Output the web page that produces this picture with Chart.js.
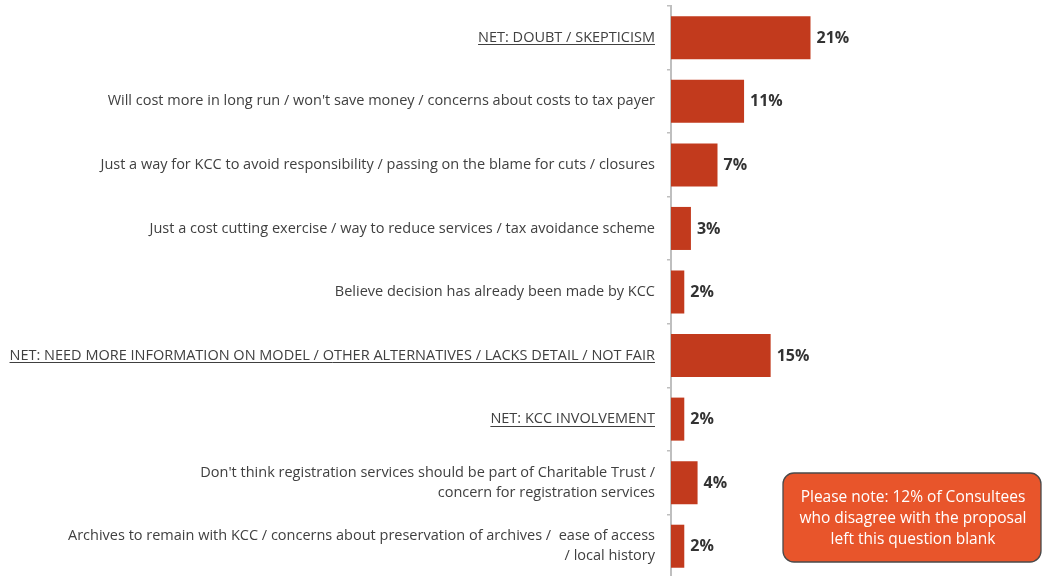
<!DOCTYPE html>
<html>
<head>
<meta charset="utf-8">
<script src="https://cdn.jsdelivr.net/npm/chart.js@4"></script>
<style>
  html, body { margin: 0; padding: 0; background: #ffffff; overflow: hidden; }
  #wrap { position: relative; width: 1043px; height: 578px; }
</style>
</head>
<body>
<div id="wrap"><canvas id="c"></canvas></div>
<script>
const categories = [
  "NET: DOUBT / SKEPTICISM",
  "Will cost more in long run / won't save money / concerns about costs to tax payer",
  "Just a way for KCC to avoid responsibility / passing on the blame for cuts / closures",
  "Just a cost cutting exercise / way to reduce services / tax avoidance scheme",
  "Believe decision has already been made by KCC",
  "NET: NEED MORE INFORMATION ON MODEL / OTHER ALTERNATIVES / LACKS DETAIL / NOT FAIR",
  "NET: KCC INVOLVEMENT",
  ["Don't think registration services should be part of Charitable Trust /", "concern for registration services"],
  ["Archives to remain with KCC / concerns about preservation of archives /  ease of access", "/ local history"]
];
const values = [21, 11, 7, 3, 2, 15, 2, 4, 2];
const valueLabels = ["21%", "11%", "7%", "3%", "2%", "15%", "2%", "4%", "2%"];
const noteLines = ["Please note: 12% of Consultees", "who disagree with the proposal", "left this question blank"];

const FONT = "'Open Sans', sans-serif";
const LABEL_SIZE = 14.5;
const TICK_LEN = 4, TICK_PAD = 12;

const extrasPlugin = {
  id: 'extras',
  afterDatasetsDraw(chart) {
    const ctx = chart.ctx;
    const meta = chart.getDatasetMeta(0);
    ctx.save();
    // value labels
    ctx.font = "bold 16px " + FONT;
    ctx.fillStyle = "#333333";
    ctx.textAlign = "left";
    ctx.textBaseline = "middle";
    meta.data.forEach((bar, i) => {
      ctx.fillText(valueLabels[i], bar.x + 6, bar.y + 0.5);
    });
    // underline NET labels
    const ys = chart.scales.y;
    ctx.font = LABEL_SIZE + "px " + FONT;
    ctx.strokeStyle = "#404040";
    ctx.lineWidth = 1;
    categories.forEach((c, i) => {
      if (typeof c === 'string' && c.startsWith("NET:")) {
        const w = ctx.measureText(c).width;
        const xr = ys.right - TICK_LEN - TICK_PAD;
        const y = Math.round(ys.getPixelForTick(i) + 6.5) + 0.5;
        ctx.beginPath();
        ctx.moveTo(xr - w, y);
        ctx.lineTo(xr, y);
        ctx.stroke();
      }
    });
    // note box
    const bx = 783, by = 473, bw = 258, bh = 89, r = 11;
    ctx.beginPath();
    ctx.roundRect(bx, by, bw, bh, r);
    ctx.fillStyle = "#E8552B";
    ctx.fill();
    ctx.lineWidth = 1.3;
    ctx.strokeStyle = "#4a4a4a";
    ctx.stroke();
    ctx.fillStyle = "#ffffff";
    ctx.font = "15.5px " + FONT;
    ctx.textAlign = "center";
    ctx.textBaseline = "middle";
    noteLines.forEach((t, i) => ctx.fillText(t, bx + bw / 2 + 1, by + 25 + i * 21));
    ctx.restore();
  }
};

new Chart(document.getElementById('c'), {
  type: 'bar',
  data: {
    labels: categories,
    datasets: [{
      data: values,
      backgroundColor: "#C23A1D",
      borderWidth: 0,
      barPercentage: 0.677,
      categoryPercentage: 1.0
    }]
  },
  options: {
    indexAxis: 'y',
    responsive: true,
    maintainAspectRatio: false,
    animation: false,
    layout: { padding: { top: 6, right: 0, bottom: 0, left: 0 } },
    plugins: { legend: { display: false }, tooltip: { enabled: false } },
    scales: {
      x: {
        display: false,
        min: 0,
        max: 56
      },
      y: {
        afterFit(scale) { scale.width = 671; scale.paddingTop = 0; scale.paddingBottom = 0; },
        grid: {
          drawOnChartArea: false,
          drawTicks: true,
          tickLength: TICK_LEN,
          color: "#BFBFBF",
          lineWidth: 1.5
        },
        border: { display: true, color: "#BFBFBF", width: 2 },
        ticks: {
          padding: TICK_PAD,
          color: "#404040",
          font: { family: FONT, size: LABEL_SIZE, lineHeight: 1.38 },
          autoSkip: false
        }
      }
    }
  },
  plugins: [extrasPlugin]
});
</script>
</body>
</html>
